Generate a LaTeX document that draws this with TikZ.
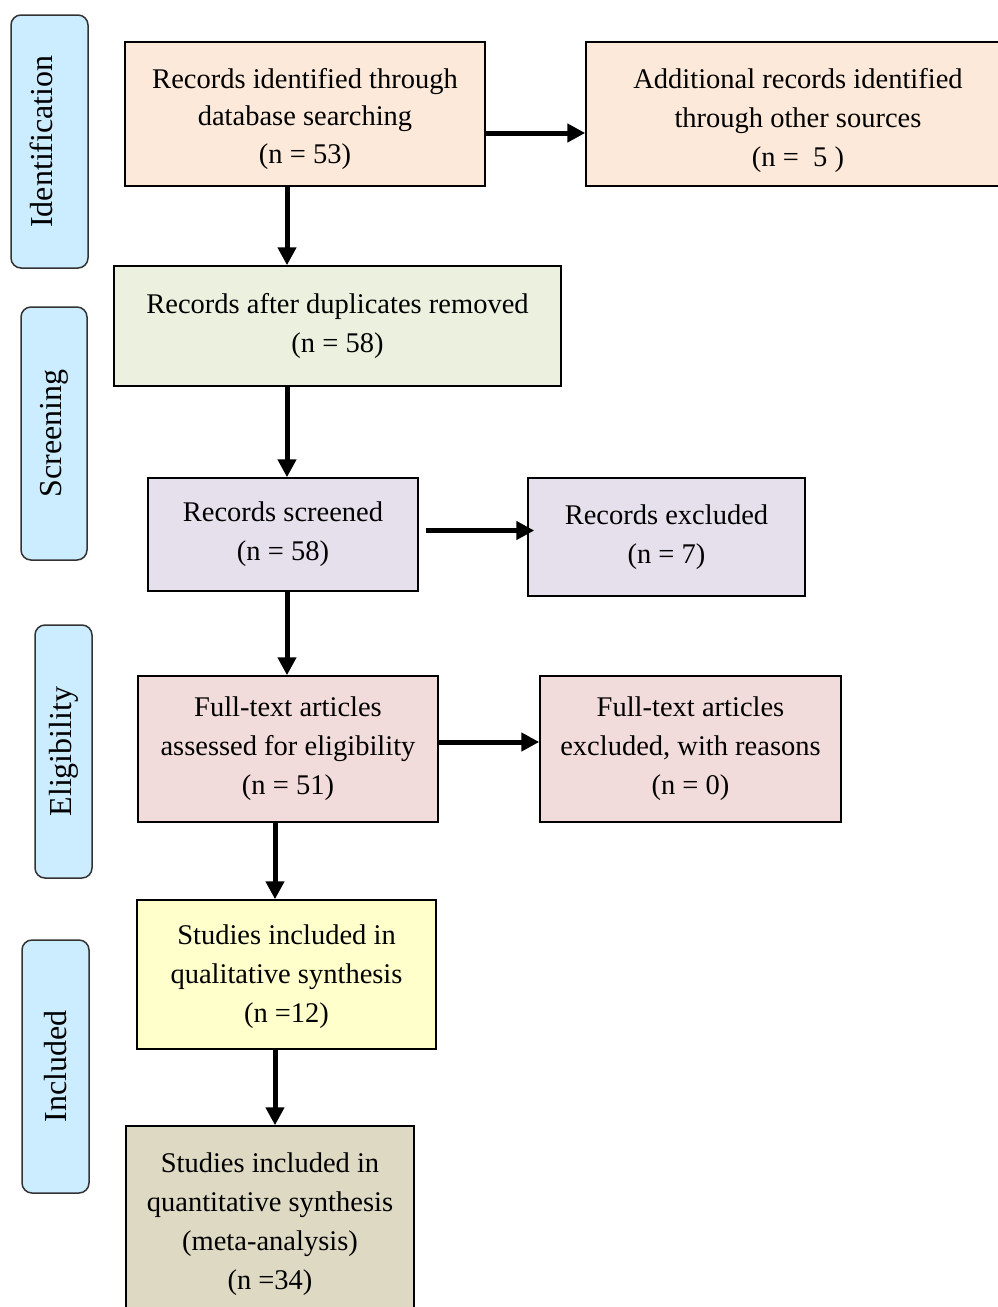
\documentclass[tikz,border=0pt]{standalone}
\usepackage{fontspec}
\setmainfont{Liberation Serif}
\usetikzlibrary{arrows.meta,positioning}
\definecolor{SoftPeach}{RGB}{253,233,217}
\definecolor{SoftGreen}{RGB}{235,241,222}
\definecolor{SoftLilac}{RGB}{229,224,236}
\definecolor{SoftRose}{RGB}{242,220,219}
\definecolor{SoftYellow}{RGB}{255,255,204}
\definecolor{SoftTan}{RGB}{221,217,195}
\definecolor{TabBlue}{RGB}{204,236,255}

\begin{document}
\begin{tikzpicture}[x=1pt, y=-1pt,
    box/.style={draw=black, line width=1.5pt, align=center, inner sep=0pt, font=\fontsize{28.5}{39}\selectfont},
    tab/.style={draw=black!80, line width=1.5pt, rounded corners=10pt, fill=TabBlue, rotate=90, inner sep=0pt, minimum width=253pt, font=\fontsize{32}{36}\selectfont},
    arr/.style={-{Triangle[length=18pt,width=18pt]}, line width=5pt}
  ]
    \useasboundingbox (0,0) rectangle (998,1307);
    \clip (0,0) rectangle (998,1307);
    % phase tabs
    \node[tab, minimum height=77pt] (tabid) at (49.5,141.5) {\raisebox{8pt}[\height][\depth]{Identification}};
    \node[tab, minimum height=66pt] (tabscr) at (54,433.5) {Screening};
    \node[tab, minimum height=57pt] (tabelig) at (63.5,751.5) {Eligibility};
    \node[tab, minimum height=67pt] (tabincl) at (55.5,1066.5) {Included};
    % flow boxes
    \node[box, fill=SoftPeach, minimum width=360pt, minimum height=144pt] (dbase) at (305,114) {\rule{0pt}{30pt}Records identified through\\[-1.5pt]database searching\\[-1.5pt](n = 53)};
    \node[box, fill=SoftPeach, minimum width=424pt, minimum height=144pt] (other) at (798,114) {\rule{0pt}{34pt}Additional records identified\\through other sources\\(n =\ \ 5 )};
    \node[box, fill=SoftGreen, minimum width=447pt, minimum height=120pt] (dupl) at (337.5,326) {Records after duplicates removed\\(n = 58)};
    \node[box, fill=SoftLilac, minimum width=270pt, minimum height=113pt] (screen) at (283,534.5) {Records screened\\(n = 58)};
    \node[box, fill=SoftLilac, minimum width=277pt, minimum height=118pt] (excl) at (666.5,537) {Records excluded\\(n = 7)};
    \node[box, fill=SoftRose, minimum width=300pt, minimum height=146pt] (full) at (288,749) {Full-text articles\\assessed for eligibility\\(n = 51)};
    \node[box, fill=SoftRose, minimum width=301pt, minimum height=146pt] (fexcl) at (690.5,749) {Full-text articles\\excluded, with reasons\\(n = 0)};
    \node[box, fill=SoftYellow, minimum width=299pt, minimum height=149pt] (qual) at (286.5,974.5) {\rule{0pt}{24pt}Studies included in\\qualitative synthesis\\(n =12)};
    \node[box, fill=SoftTan, minimum width=288pt, minimum height=196pt] (quant) at (270,1224) {Studies included in\\quantitative synthesis\\(meta-analysis)\\(n =34)};
    % connectors
    \draw[arr] ([xshift=-18pt]dbase.south) -- ([xshift=-18pt]dbase.south |- dupl.north);
    \draw[arr] ([yshift=-19pt]dbase.east) -- ([yshift=-19pt]dbase.east -| other.west);
    \draw[arr] ([xshift=4pt]screen.north |- dupl.south) -- ([xshift=4pt]screen.north);
    \draw[arr] ([xshift=7pt,yshift=4pt]screen.east) -- ([xshift=7pt,yshift=4pt]screen.east -| excl.west);
    \draw[arr] ([xshift=4pt]screen.south) -- ([xshift=4pt]screen.south |- full.north);
    \draw[arr] ([yshift=7pt]full.east) -- ([yshift=7pt]full.east -| fexcl.west);
    \draw[arr] ([xshift=-13pt]full.south) -- ([xshift=-13pt]full.south |- qual.north);
    \draw[arr] ([xshift=-11.5pt]qual.south) -- ([xshift=-11.5pt]qual.south |- quant.north);
  \end{tikzpicture}
\end{document}
